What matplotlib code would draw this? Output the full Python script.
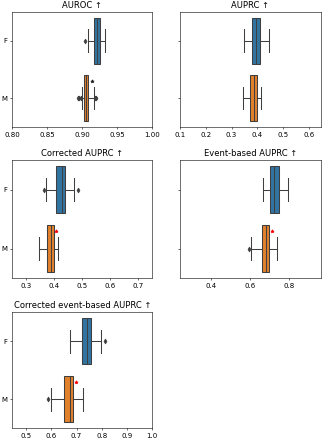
import matplotlib
matplotlib.use("Agg")
import matplotlib.pyplot as plt

titles = ["AUROC ↑", "AUPRC ↑", "Corrected AUPRC ↑",
          "Event-based AUPRC ↑", "Corrected event-based AUPRC ↑"]
groups = ["F", "M"]

# per metric: [F, M]
q1 = [[0.917, 0.903], [0.378, 0.372], [0.408, 0.373], [0.704, 0.661], [0.722, 0.650]]
med = [[0.921, 0.906], [0.395, 0.385], [0.426, 0.389], [0.726, 0.683], [0.741, 0.674]]
q3 = [[0.925, 0.909], [0.410, 0.397], [0.437, 0.399], [0.750, 0.699], [0.758, 0.685]]
whislo = [[0.908, 0.900], [0.349, 0.345], [0.372, 0.347], [0.669, 0.604], [0.674, 0.600]]
whishi = [[0.932, 0.9165], [0.446, 0.414], [0.471, 0.414], [0.798, 0.738], [0.796, 0.724]]
fliers = [[[0.9035], [0.894, 0.896, 0.898, 0.919, 0.920]],
          [[], []],
          [[0.362, 0.484], []],
          [[], [0.596]],
          [[0.812], [0.588]]]
xlims = [(0.8, 1.0), (0.1, 0.645), (0.25, 0.75), (0.24, 0.965), (0.445, 1.0)]
star_x = [0.914, None, 0.408, 0.716, 0.698]
star_color = ["#222222", None, "red", "red", "red"]

colors = ["#3274a1", "#e1812c"]
gray = "#3f3f3f"

fig = plt.figure(figsize=(6.46, 8.8), dpi=50)
positions = [
    [0.038, 0.712, 0.433, 0.261],
    [0.557, 0.712, 0.436, 0.261],
    [0.038, 0.368, 0.433, 0.268],
    [0.557, 0.368, 0.436, 0.268],
    [0.038, 0.027, 0.433, 0.263],
]

for i, title in enumerate(titles):
    ax = fig.add_axes(positions[i])
    stats = []
    for j, g in enumerate(groups):
        stats.append(dict(label=g, q1=q1[i][j], med=med[i][j], q3=q3[i][j],
                          whislo=whislo[i][j], whishi=whishi[i][j],
                          fliers=fliers[i][j]))
    bp = ax.bxp(stats, positions=[0, 1], widths=0.8, vert=False,
                patch_artist=True,
                boxprops=dict(edgecolor=gray, linewidth=1.5),
                medianprops=dict(color=gray, linewidth=1.5),
                whiskerprops=dict(color=gray, linewidth=1.5),
                capprops=dict(color=gray, linewidth=1.5),
                flierprops=dict(marker="d", markerfacecolor=gray,
                                markeredgecolor=gray, markersize=5))
    for patch, c in zip(bp["boxes"], colors):
        patch.set_facecolor(c)
    if star_x[i] is not None:
        ax.plot([star_x[i]], [0.7], marker="*", color=star_color[i],
                markersize=5, linestyle="none")
    ax.set_ylim(1.5, -0.5)
    ax.set_xlim(*xlims[i])
    ax.set_yticks([0, 1])
    if i % 2 == 0:
        ax.set_yticklabels(groups)
    else:
        ax.set_yticklabels([])
    ax.set_title(title)

fig.savefig("out.png", dpi=50)
